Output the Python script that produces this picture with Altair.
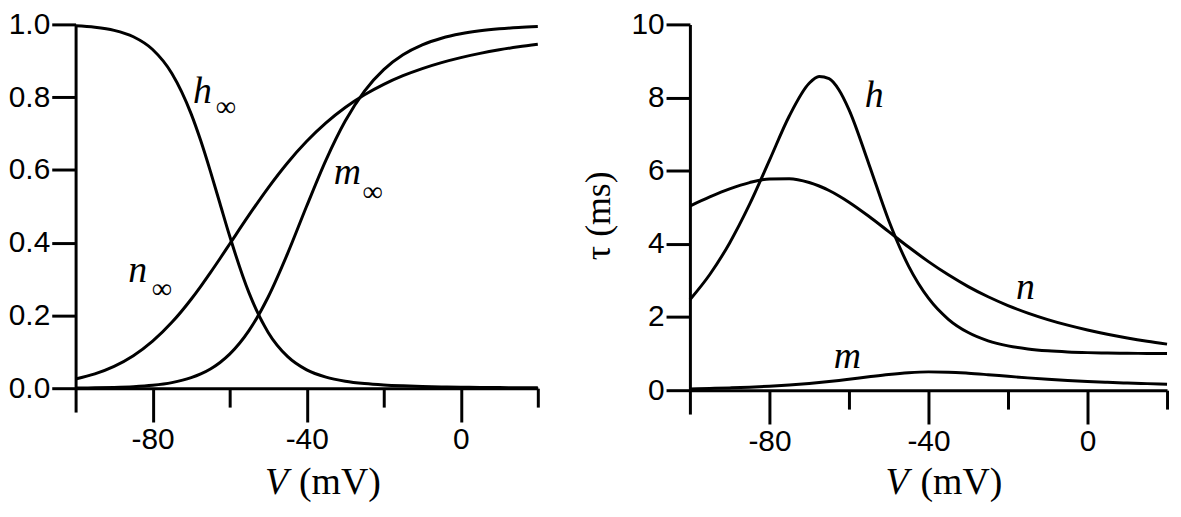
import altair as alt
import pandas as pd

# membrane potential grid (mV)
V = [-100, -95, -90, -85, -80, -75, -70, -67.5, -65, -62.5, -60, -55, -50, -45,
     -40, -35, -30, -25, -20, -15, -10, -5, 0, 5, 10, 15, 20]

# steady-state gating values (left panel)
n_inf = [0.0254, 0.0394, 0.0600, 0.0892, 0.1291, 0.1810, 0.2446, 0.2802, 0.3177,
         0.3566, 0.3963, 0.4755, 0.5508, 0.6191, 0.6786, 0.7292, 0.7714, 0.8064,
         0.8352, 0.8590, 0.8786, 0.8950, 0.9087, 0.9203, 0.9301, 0.9384, 0.9456]
m_inf = [0.0005, 0.0011, 0.0021, 0.0041, 0.0080, 0.0154, 0.0289, 0.0393, 0.0529,
         0.0708, 0.0936, 0.1581, 0.2508, 0.3692, 0.5007, 0.6271, 0.7344, 0.8167,
         0.8757, 0.9163, 0.9437, 0.9620, 0.9742, 0.9823, 0.9878, 0.9916, 0.9941]
h_inf = [0.9963, 0.9922, 0.9836, 0.9660, 0.9310, 0.8652, 0.7541, 0.6800, 0.5961,
         0.5069, 0.4182, 0.2626, 0.1534, 0.0874, 0.0504, 0.0303, 0.0192, 0.0128,
         0.0089, 0.0065, 0.0048, 0.0036, 0.0028, 0.0021, 0.0017, 0.0013, 0.0010]

# time constants in ms (right panel)
tau_n = [5.034, 5.282, 5.502, 5.675, 5.776, 5.782, 5.677, 5.582, 5.459, 5.311,
         5.141, 4.755, 4.335, 3.913, 3.515, 3.153, 2.832, 2.554, 2.314, 2.108,
         1.931, 1.778, 1.646, 1.530, 1.429, 1.339, 1.260]
tau_m = [0.0358, 0.0472, 0.0622, 0.0820, 0.1078, 0.1412, 0.1839, 0.2090, 0.2368,
         0.2669, 0.2991, 0.3669, 0.4310, 0.4790, 0.5007, 0.4935, 0.4642, 0.4230,
         0.3786, 0.3364, 0.2989, 0.2666, 0.2391, 0.2159, 0.1962, 0.1796, 0.1653]
tau_h = [2.473, 3.163, 4.026, 5.077, 6.282, 7.496, 8.390, 8.573, 8.516, 8.206,
         7.670, 6.186, 4.640, 3.393, 2.515, 1.939, 1.576, 1.350, 1.212, 1.128,
         1.077, 1.046, 1.027, 1.016, 1.009, 1.005, 1.003]

# axis ticks
x_ticks = [-100, -80, -60, -40, -20, 0, 20]
y_ticks_left = [0.0, 0.2, 0.4, 0.6, 0.8, 1.0]
y_ticks_right = [0, 2, 4, 6, 8, 10]

# curve labels (left panel)
left_lbl_text = ["h", "m", "n"]
left_lbl_v = [-69.5, -33.0, -86.3]
left_lbl_y = [0.785, 0.56, 0.292]
left_sub_v = [-63.6, -25.5, -80.2]
left_sub_y = [0.747, 0.515, 0.248]

# curve labels (right panel)
right_lbl_text = ["h", "n", "m"]
right_lbl_v = [-56.0, -18.0, -63.8]
right_lbl_y = [7.75, 2.5, 0.62]

# x-axis title pieces
title_text = ["V", "(mV)"]
title_v = [-50.8, -42.0]
title_style = ["italic", "normal"]
left_title_y = -0.29
right_title_y = -2.84

SANS = "Liberation Sans"
SERIF = "Liberation Serif"


def long_df(series):
    rows = []
    for name, vals in series.items():
        for v, y in zip(V, vals):
            rows.append({"V": v, "y": y, "s": name})
    return pd.DataFrame(rows)


left_df = long_df({"n": n_inf, "m": m_inf, "h": h_inf})
right_df = long_df({"n": tau_n, "m": tau_m, "h": tau_h})

tick_size_x = {
    "condition": [
        {"test": "datum.value % 40 === 0", "value": 34},
        {"test": "datum.value === -100", "value": 24},
    ],
    "value": 19,
}


def x_axis():
    return alt.Axis(
        values=x_ticks,
        labelExpr="datum.value % 40 === 0 ? '' + datum.value : ''",
        tickSize=tick_size_x,
        labelPadding=3,
        title=None,
        grid=False,
    )


def panel(df, ydomain, yticks, yfmt, ytitle, lbl, sub, title_y, width, height):
    xs = alt.Scale(domain=[-100, 20], nice=False, zero=False)
    ys = alt.Scale(domain=ydomain, nice=False, zero=False)
    if ytitle:
        yaxis = alt.Axis(values=yticks, format=yfmt, tickSize=24, labelPadding=2,
                         grid=False, title=ytitle, titleFont=SERIF,
                         titleFontSize=36, titleFontWeight="normal",
                         titleAngle=270, titleX=-81, titleY=192,
                         titleBaseline="alphabetic", titleAlign="center")
    else:
        yaxis = alt.Axis(values=yticks, format=yfmt, tickSize=24, labelPadding=2,
                         grid=False, title=None)
    xaxis = x_axis()

    def enc(ch):
        return ch.encode(
            x=alt.X("V:Q", scale=xs, axis=xaxis),
            y=alt.Y("y:Q", scale=ys, axis=yaxis),
        )

    lines = enc(alt.Chart(df).mark_line(
        color="black", strokeWidth=3, interpolate="monotone", clip=False
    )).encode(detail="s:N")
    ltxt, lv, ly = lbl
    lbl_df = pd.DataFrame({"t": ltxt, "V": lv, "y": ly})
    labels = enc(alt.Chart(lbl_df).mark_text(
        font=SERIF, fontSize=38, fontStyle="italic", align="left",
        baseline="alphabetic", color="black"
    )).encode(text="t:N")
    layers = [lines, labels]
    if sub is not None:
        sv, sy = sub
        sub_df = pd.DataFrame({"t": ["\u221e"] * len(sv), "V": sv, "y": sy})
        subs = enc(alt.Chart(sub_df).mark_text(
            font=SERIF, fontSize=29, align="left", baseline="alphabetic",
            color="black"
        )).encode(text="t:N")
        layers.append(subs)
    tdf = pd.DataFrame({"t": title_text, "V": title_v, "y": [title_y] * 2,
                        "st": title_style})
    for st in ["italic", "normal"]:
        layers.append(
            enc(alt.Chart(tdf).transform_filter(
                alt.datum.st == st
            ).mark_text(
                font=SERIF, fontSize=38, fontStyle=st, align="left",
                baseline="alphabetic", color="black"
            )).encode(text="t:N")
        )
    return alt.layer(*layers).properties(width=width, height=height)


left = panel(left_df, [0, 1], y_ticks_left, ".1f", None,
             (left_lbl_text, left_lbl_v, left_lbl_y),
             (left_sub_v, left_sub_y), left_title_y, 465, 366)
right = panel(right_df, [0, 10], y_ticks_right, "d", "\u03c4 (ms)",
              (right_lbl_text, right_lbl_v, right_lbl_y),
              None, right_title_y, 480, 368)

chart = alt.hconcat(left, right, spacing=37).properties(
    padding={"left": 0, "top": 0, "right": 0, "bottom": 0},
    background="white",
).configure_view(stroke=None).configure_axis(
    domainColor="black", domainWidth=3, tickColor="black", tickWidth=3,
    labelFont=SANS, labelFontSize=30, labelColor="black",
)

chart.save("out.html", embed_options={"renderer": "svg", "actions": False})
